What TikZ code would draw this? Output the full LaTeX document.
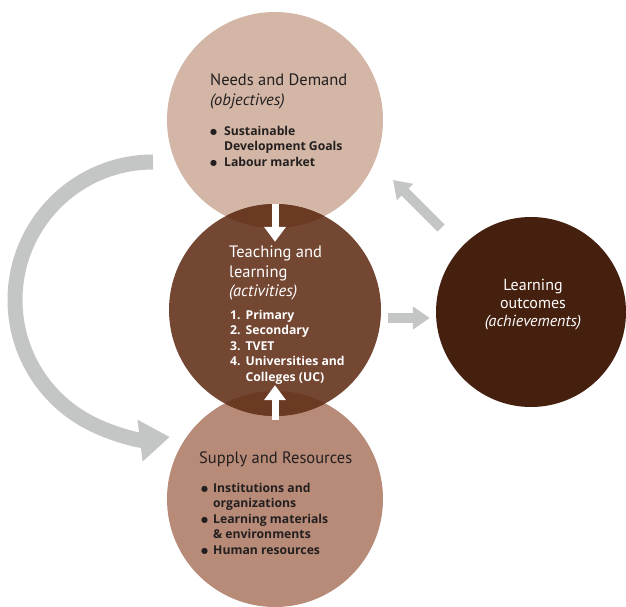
\documentclass[tikz,border=0pt]{standalone}
\usepackage{fontspec}
\setmainfont{PT Sans}
\newfontfamily\listfont{Open Sans}
\newfontfamily\symfont{DejaVu Sans}
\usetikzlibrary{
    arrows.meta,
    calc
}
\definecolor{needsfill}{HTML}{D3B6A5}
\definecolor{teachfill}{HTML}{744733}
\definecolor{supplyfill}{HTML}{B78B77}
\definecolor{outcomefill}{HTML}{45200F}
\definecolor{overlapfill}{HTML}{6A3A23}
\definecolor{arrowgray}{HTML}{C4C6C5}
\definecolor{inkdark}{HTML}{231F20}
\newcommand{\dotmark}{\raisebox{0.8pt}{\symfont\fontsize{8}{8}\selectfont ●}}
\tikzset{
    % Big stage circles
    stage/.style={
        circle,
        inner sep=0pt,
        draw=none,
        fill=#1,
        minimum size=216pt
    },
    % Heading text inside a circle
    heading/.style={
        font=\fontsize{16.5}{19.5}\selectfont,
        align=left,
        inner sep=0pt,
        anchor=north west,
        text=#1
    },
    % Bold item list
    itemlist/.style={
        font=\listfont\fontsize{12.2}{15.5}\selectfont\bfseries,
        inner sep=0pt,
        anchor=north west,
        text=#1
    },
    % Arrow styles
    inflow/.style={
        -{Triangle[length=15pt, width=21pt]},
        line width=7pt,
        color=white
    },
    feedback/.style={
        -{Triangle[length=17pt, width=22pt]},
        line width=10pt,
        color=arrowgray
    },
    cycle/.style={
        -{Triangle[length=30pt, width=40pt]},
        line width=15pt,
        color=arrowgray
    }
}

\begin{document}
\begin{tikzpicture}[x=1pt, y=-1pt]
    \useasboundingbox (0,0) rectangle (626,607);

    % Stage circles
    \node[stage=needsfill] (needs) at (275, 120) {};
    \node[stage=supplyfill] (supply) at (275, 499) {};
    \node[stage=teachfill, minimum size=212pt] (teach) at (275, 310) {};
    \node[stage=outcomefill, minimum size=190pt] (outcome) at (531, 312) {};

    % Darker overlaps
    \begin{scope}
        \clip (needs.center) circle[radius=108];
        \fill[overlapfill] (teach.center) circle[radius=106];
    \end{scope}
    \begin{scope}
        \clip (supply.center) circle[radius=108];
        \fill[overlapfill] (teach.center) circle[radius=106];
    \end{scope}

    % Needs and Demand
    \node[heading=inkdark] (needstitle) at (210, 74) {Needs and Demand\\\textit{(objectives)}};
    \node[itemlist=inkdark] (needslist) at (210, 124) {%
        \begin{tabular}{@{}l@{\hspace{7pt}}l@{}}
            \dotmark & Sustainable\\
                     & Development Goals\\
            \dotmark & Labour market
        \end{tabular}};

    % Teaching and learning
    \node[heading=white] (teachtitle) at (229, 246) {Teaching and\\learning\\\textit{(activities)}};
    \node[itemlist=white] (teachlist) at (230, 308) {%
        \begin{tabular}{@{}l@{\hspace{5pt}}l@{}}
            1. & Primary\\
            2. & Secondary\\
            3. & TVET\\
            4. & Universities and\\
               & Colleges (UC)
        \end{tabular}};

    % Supply and Resources
    \node[heading=inkdark] (supplytitle) at (199, 452) {Supply and Resources};
    \node[itemlist=inkdark] (supplylist) at (201, 481) {%
        \begin{tabular}{@{}l@{\hspace{5pt}}l@{}}
            \dotmark & Institutions and\\
                     & organizations\\
            \dotmark & Learning materials\\
                     & \& environments\\
            \dotmark & Human resources
        \end{tabular}};

    % Learning outcomes
    \node[heading=white, align=center, anchor=north, font=\fontsize{16}{18}\selectfont] (outcometitle) at (533, 279) {Learning\\outcomes\\\textit{(achievements)}};

    % White arrows into teaching
    \draw[inflow] (teach.north) -- ($(teach.north)+(0,38)$);
    \draw[inflow] ($(supply.north)+(0,29)$) -- ($(teach.south)+(0,-31)$);

    % Grey arrows
    \draw[feedback] ($(teach.east)+(7,8)$) -- ($(outcome.west)+(-6,6)$);
    \draw[feedback] ($(outcome.center)+(-90,-84)$) -- ($(needs.center)+(118,60)$);
    \draw[cycle] ($(needs.center)+(-122,42)$) arc[start angle=270, end angle=83, radius=138];

\end{tikzpicture}
\end{document}
